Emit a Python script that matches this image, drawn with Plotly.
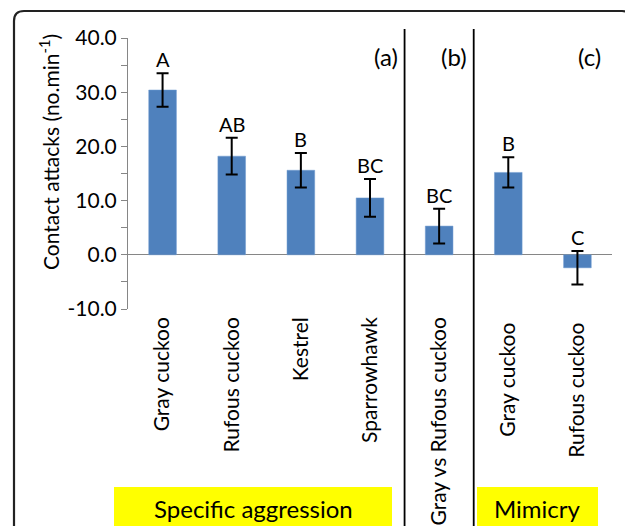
import plotly.graph_objects as go

categories = ["Gray cuckoo", "Rufous cuckoo", "Kestrel", "Sparrowhawk",
              "Gray vs Rufous cuckoo", "Gray cuckoo ", "Rufous cuckoo "]
values = [30.4, 18.2, 15.6, 10.5, 5.3, 15.2, -2.4]
errors = [3.1, 3.4, 3.2, 3.5, 3.2, 2.8, 3.1]
letters = ["A", "AB", "B", "BC", "BC", "B", "C"]
panel_labels = ["(a)", "(b)", "(c)"]
group_labels = ["Specific aggression", "Mimicry"]
y_title = "Contact attacks (no.min<sup>-1</sup>)"
y_ticks = [-10, 0, 10, 20, 30, 40]
y_tick_text = ["-10.0", "0.0", "10.0", "20.0", "30.0", "40.0"]

# page has an 8px body margin, so the figure is 8px smaller than the window
OFF = 8
W, H = 633 - OFF, 526 - OFF
L, R, T, B = 128 - OFF, 21, 38 - OFF, 217
PW, PH = W - L - R, H - T - B


def px(p):
    return (p - 128) / PW


def py(p):
    return (309 - p) / PH


FONT = "Lato, Carlito, Calibri, sans-serif"

fig = go.Figure()
fig.add_trace(go.Bar(
    x=categories, y=values,
    marker=dict(color="#4F81BD", line=dict(color="#6F9AD0", width=0.5)),
    width=0.4,
    error_y=dict(type="data", array=errors, color="black", thickness=2, width=6),
    showlegend=False,
))

for c, v, e, t in zip(categories, values, errors, letters):
    fig.add_annotation(x=c, y=v + e, text=t, showarrow=False, yanchor="bottom",
                       yshift=0, font=dict(size=20, color="black", family=FONT))

# y-axis title (placed above the plot centre, as in the original)
fig.add_annotation(xref="paper", yref="paper", x=px(49), y=py(152), xanchor="center",
                   yanchor="middle", textangle=-90, text=y_title, showarrow=False,
                   font=dict(size=21, color="black", family=FONT))

# separators between panels
for xi in [3.5, 4.5]:
    fig.add_shape(type="line", xref="x", yref="paper", x0=xi, x1=xi,
                  y0=py(29), y1=py(560), line=dict(color="black", width=1.8))

# panel labels
lab_font = dict(size=24, color="black", family=FONT)
fig.add_annotation(xref="x", yref="paper", x=3.5, y=py(40), xanchor="right", xshift=-5,
                   text=panel_labels[0], showarrow=False, font=lab_font)
fig.add_annotation(xref="x", yref="paper", x=4.5, y=py(40), xanchor="right", xshift=-5,
                   text=panel_labels[1], showarrow=False, font=lab_font)
fig.add_annotation(xref="paper", yref="paper", x=px(603), y=py(40), xanchor="right",
                   text=panel_labels[2], showarrow=False, font=lab_font)

# yellow group boxes
for (bx0, bx1), lab in zip([(114, 392), (477, 598)], group_labels):
    fig.add_shape(type="rect", xref="paper", yref="paper", x0=px(bx0), x1=px(bx1),
                  y0=py(560), y1=py(487), fillcolor="#FFFF00", line=dict(width=0), layer="below")
    fig.add_annotation(xref="paper", yref="paper", x=px((bx0 + bx1) / 2), y=py(508),
                       xanchor="center", yanchor="middle",
                       text=lab, showarrow=False, font=dict(size=24, color="black", family=FONT))

# rounded outer frame (top part)
fx0, fx1, yt, yb = px(14), px(632), py(11), py(560)
dx, dy = 10 / PW, 10 / PH
path = (f"M {fx0},{yb} L {fx0},{yt - dy} Q {fx0},{yt} {fx0 + dx},{yt} "
        f"L {fx1 - dx},{yt} Q {fx1},{yt} {fx1},{yt - dy} L {fx1},{yb}")
fig.add_shape(type="path", xref="paper", yref="paper", path=path,
              line=dict(color="#222222", width=2.2))

fig.update_layout(
    width=W, height=H,
    margin=dict(l=L, r=R, t=T, b=B, autoexpand=False),
    plot_bgcolor="white", paper_bgcolor="white",
    font=dict(family=FONT, color="black"),
    bargap=0.6,
)
fig.update_xaxes(
    type="category", tickangle=-90, showline=False, showgrid=False, zeroline=False,
    ticks="", ticklabelstandoff=3,
    tickfont=dict(size=21, color="black", family=FONT), automargin=False,
    range=[-0.5, 6.5],
)
fig.update_yaxes(
    range=[-10, 40], tickvals=y_ticks, ticktext=y_tick_text,
    showline=True, linecolor="#868686", linewidth=1,
    ticks="outside", ticklen=6, tickcolor="#868686",
    minor=dict(ticks="outside", dtick=5, ticklen=6, tickcolor="#868686"),
    showgrid=False, zeroline=True, zerolinecolor="#868686", zerolinewidth=1.2,
    tickfont=dict(size=21, color="black", family=FONT), automargin=False,
)

fig.write_html("out.html")
